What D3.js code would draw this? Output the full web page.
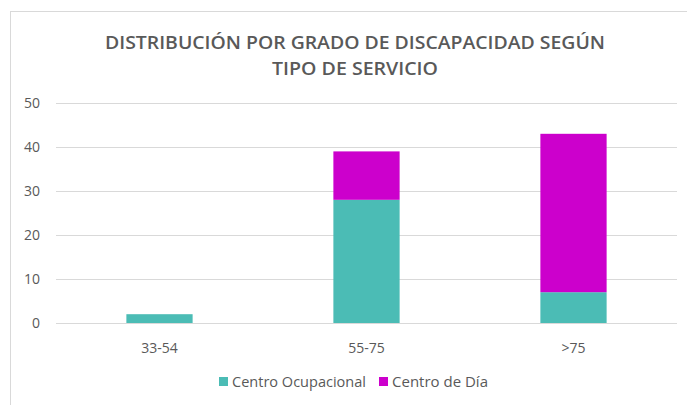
<!DOCTYPE html>
<html>
<head>
<meta charset="utf-8">
<script src="https://cdn.jsdelivr.net/npm/d3@7"></script>
<style>
  body { margin: 0; background: #fff; }
  text { font-family: "Open Sans", "Liberation Sans", sans-serif; fill: #595959; }
</style>
</head>
<body>
<div id="chart"></div>
<script>
// data
const categories = ['33-54', '55-75', '>75'];
const seriesNames = ['Centro Ocupacional', 'Centro de Día'];
const ocupacional = [2, 28, 7];
const centroDia = [0, 11, 36];
const yTicks = [0, 10, 20, 30, 40, 50];
const titleLines = ['DISTRIBUCIÓN POR GRADO DE DISCAPACIDAD SEGÚN', 'TIPO DE SERVICIO'];

const colors = ['#4bbcb5', '#cc00cc'];

const width = 687, height = 405;
const margin = {top: 103, right: 10, bottom: 82, left: 56};

const svg = d3.select('#chart').append('svg')
    .attr('width', width)
    .attr('height', height);

// chart area border
svg.append('rect')
    .attr('x', 10.5).attr('y', 11.5)
    .attr('width', 700).attr('height', 420)
    .attr('fill', 'none')
    .attr('stroke', '#d9d9d9');

const chartW = width - margin.left - margin.right;
const chartH = height - margin.top - margin.bottom;

const table = categories.map((c, i) => ({cat: c, 'Centro Ocupacional': ocupacional[i], 'Centro de Día': centroDia[i]}));
const stacked = d3.stack().keys(seriesNames)(table);

const scaleX = d3.scaleBand(categories, [0, chartW]).paddingInner(0.68).paddingOuter(0.34);
const scaleY = d3.scaleLinear([0, 50], [chartH, 0]);

const g = svg.append('g').attr('transform', `translate(${margin.left},${margin.top})`);

// gridlines
g.append('g')
    .selectAll('line')
    .data(yTicks)
    .join('line')
    .attr('x1', 0).attr('x2', chartW)
    .attr('y1', d => Math.round(scaleY(d)) + 0.5)
    .attr('y2', d => Math.round(scaleY(d)) + 0.5)
    .attr('stroke', '#d9d9d9')
    .attr('stroke-width', 1);

// y labels
g.append('g')
    .selectAll('text')
    .data(yTicks)
    .join('text')
    .attr('x', -16)
    .attr('y', d => scaleY(d))
    .attr('dy', '0.35em')
    .attr('text-anchor', 'end')
    .attr('font-size', 14)
    .text(d => d);

// bars
g.append('g')
    .selectAll('g')
    .data(stacked)
    .join('g')
    .attr('fill', (d, i) => colors[i])
    .selectAll('rect')
    .data(d => d)
    .join('rect')
    .attr('x', d => scaleX(d.data.cat))
    .attr('y', d => scaleY(d[1]))
    .attr('width', scaleX.bandwidth())
    .attr('height', d => scaleY(d[0]) - scaleY(d[1]));

// x labels
g.append('g')
    .selectAll('text')
    .data(categories)
    .join('text')
    .attr('x', d => scaleX(d) + scaleX.bandwidth() / 2)
    .attr('y', chartH + 30)
    .attr('text-anchor', 'middle')
    .attr('font-size', 14)
    .text(d => d);

// title
svg.append('g')
    .selectAll('text')
    .data(titleLines)
    .join('text')
    .attr('x', 355)
    .attr('y', (d, i) => 49 + i * 26)
    .attr('text-anchor', 'middle')
    .attr('font-size', 18)
    .attr('font-weight', 600)
    .attr('textLength', (d, i) => i === 0 ? 500 : 166)
    .attr('lengthAdjust', 'spacingAndGlyphs')
    .text(d => d);

// legend
const legendX = [219, 379];
const legend = svg.append('g')
    .selectAll('g')
    .data(seriesNames)
    .join('g')
    .attr('transform', (d, i) => `translate(${legendX[i]},382)`);
legend.append('rect')
    .attr('x', 0).attr('y', -5)
    .attr('width', 9).attr('height', 9)
    .attr('fill', (d, i) => colors[i]);
legend.append('text')
    .attr('x', 13)
    .attr('y', 0)
    .attr('dy', '0.35em')
    .attr('font-size', 14)
    .attr('textLength', (d, i) => i === 0 ? 134 : 96)
    .attr('lengthAdjust', 'spacingAndGlyphs')
    .text(d => d);
</script>
</body>
</html>
